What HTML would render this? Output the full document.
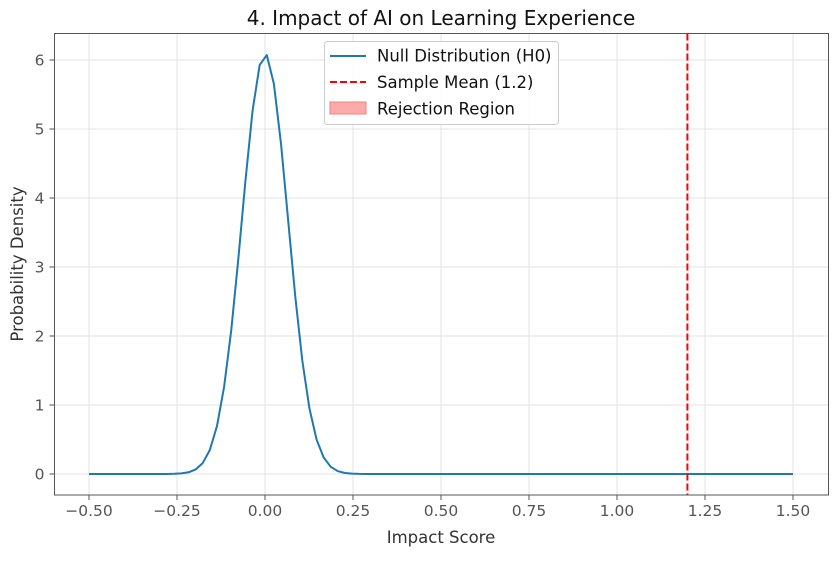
<!DOCTYPE html>
<html><head><meta charset="utf-8"><style>
body{margin:0;background:#fff;}
svg text{font-family:"DejaVu Sans","Liberation Sans",sans-serif;}
</style></head><body>
<svg id="chart" width="838" height="556" xmlns="http://www.w3.org/2000/svg">
<text x="441" y="25" text-anchor="middle" font-size="20" fill="#111">4. Impact of AI on Learning Experience</text>
<g id="grid"></g>
<g id="marks"></g>
<rect x="54.5" y="33.5" width="774" height="461.5" fill="none" stroke="#555" stroke-width="1"/>
<g id="ticks"></g>
<text x="441" y="543" text-anchor="middle" font-size="16.5" fill="#333">Impact Score</text>
<text transform="translate(23,264) rotate(-90)" text-anchor="middle" font-size="16.5" fill="#333">Probability Density</text>
<g>
<rect x="324.5" y="41.5" width="234" height="83" rx="3" fill="#fff" fill-opacity="0.85" stroke="#ccc"/>
<line x1="330" y1="56" x2="366" y2="56" stroke="#1f77b4" stroke-width="2"/>
<text x="377" y="61.5" font-size="16.5" fill="#111">Null Distribution (H0)</text>
<line x1="330" y1="82" x2="366" y2="82" stroke="red" stroke-width="2" stroke-dasharray="7,3"/>
<text x="377" y="88" font-size="16.5" fill="#111">Sample Mean (1.2)</text>
<rect x="330" y="102" width="36" height="12" fill="#ffaaaa" stroke="#f08080"/>
<text x="377" y="114.5" font-size="16.5" fill="#111">Rejection Region</text>
</g>
</svg>
<script>
const xStart = -0.5, xEnd = 1.5, nPoints = 100;
const densityValues = [0,0,0,0,0,0,0,0,0,0,
0.0002,0.0008,0.0027,0.0086,0.025,0.066,0.160,0.350,0.697,1.264,
2.082,3.120,4.250,5.264,5.929,6.072,5.654,4.787,3.684,2.579,
1.641,0.950,0.500,0.239,0.104,0.041,0.0148,0.0048,0.0014,0.0004,
0.0001,0,0,0,0,0,0,0,0,0,
0,0,0,0,0,0,0,0,0,0,
0,0,0,0,0,0,0,0,0,0,
0,0,0,0,0,0,0,0,0,0,
0,0,0,0,0,0,0,0,0,0,
0,0,0,0,0,0,0,0,0,0];
const sampleMean = 1.2;
const xTicks = [-0.5,-0.25,0,0.25,0.5,0.75,1.0,1.25,1.5];
const xTickLabels = ["−0.50","−0.25","0.00","0.25","0.50","0.75","1.00","1.25","1.50"];
const yTicks = [0,1,2,3,4,5,6];

const NS = "http://www.w3.org/2000/svg";
const L = 54.5, R = 828.5, T = 33.5, B = 495;
const xs = v => 265 + v * 352;
const ys = v => 474 - v * 69;
function mk(tag, attrs, parent){const e=document.createElementNS(NS,tag);for(const k in attrs)e.setAttribute(k,attrs[k]);parent.appendChild(e);return e;}
const grid=document.getElementById('grid'), marks=document.getElementById('marks'), ticks=document.getElementById('ticks');
xTicks.forEach((t,i)=>{
  const gx=mk('line',{x1:xs(t),x2:xs(t),y1:T,y2:B,stroke:'#e3e3e3','stroke-width':1},grid);
  
  
  const tk=mk('line',{x1:xs(t),x2:xs(t),y1:B,y2:B+5,stroke:'#555'},ticks);
  
  
  const tx=mk('text',{x:xs(t),y:B+21,'text-anchor':'middle','font-size':15.5,fill:'#555'},ticks);
  tx.textContent=xTickLabels[i];
  
  
});
yTicks.forEach(t=>{
  const gy=mk('line',{x1:L,x2:R,y1:ys(t),y2:ys(t),stroke:'#e3e3e3','stroke-width':1},grid);
  
  
  const tk=mk('line',{x1:L-5,x2:L,y1:ys(t),y2:ys(t),stroke:'#555'},ticks);
  
  
  const tx=mk('text',{x:L-10,y:ys(t)+5.5,'text-anchor':'end','font-size':15.5,fill:'#555'},ticks);
  tx.textContent=String(t);
  
  
});
const pts=densityValues.map((v,i)=>{const x=xStart+(xEnd-xStart)*i/(nPoints-1);return xs(x).toFixed(2)+','+ys(v).toFixed(2);});
const line=mk('polyline',{points:pts.join(' '),fill:'none',stroke:'#1f77b4','stroke-width':2,'stroke-linejoin':'round'},marks);


const ml=mk('line',{x1:xs(sampleMean),x2:xs(sampleMean),y1:T,y2:B,stroke:'red','stroke-width':2,'stroke-dasharray':'7,3'},marks);


</script>
</body></html>
